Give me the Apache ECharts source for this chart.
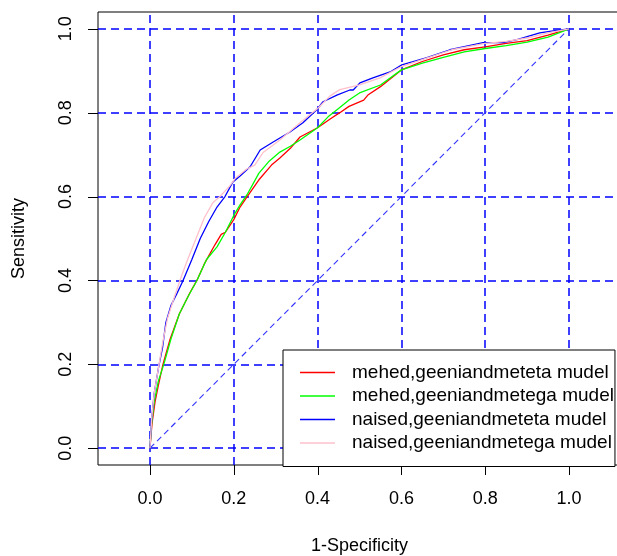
<!DOCTYPE html>
<html>
<head>
<meta charset="utf-8">
<script src="https://cdn.jsdelivr.net/npm/echarts@6/dist/echarts.min.js"></script>
<style>
  html, body { margin: 0; padding: 0; background: #fff; }
  #chart { width: 617px; height: 556px; }
</style>
</head>
<body>
<div id="chart"></div>
<script>
const xTicks = [0, 0.2, 0.4, 0.6, 0.8, 1.0];
const yTicks = [0, 0.2, 0.4, 0.6, 0.8, 1.0];
const names = [
  'mehed,geeniandmeteta mudel',
  'mehed,geeniandmetega mudel',
  'naised,geeniandmeteta mudel',
  'naised,geeniandmetega mudel'
];
const colors = ['#ff0000', '#00ff00', '#0000ff', '#ffc0cb'];

// 1-specificity / sensitivity
const redFpr = [0, 0.005, 0.012, 0.02, 0.031, 0.048, 0.07, 0.095, 0.112, 0.13, 0.155, 0.17, 0.18, 0.2, 0.215, 0.232, 0.26, 0.29, 0.31, 0.335, 0.358, 0.4, 0.43, 0.453, 0.475, 0.51, 0.52, 0.55, 0.6, 0.65, 0.7, 0.75, 0.8, 0.85, 0.9, 0.95, 1];
const redTpr = [0, 0.06, 0.11, 0.15, 0.2, 0.26, 0.32, 0.37, 0.40, 0.44, 0.485, 0.51, 0.515, 0.545, 0.575, 0.60, 0.64, 0.675, 0.692, 0.715, 0.742, 0.764, 0.785, 0.80, 0.815, 0.83, 0.842, 0.862, 0.902, 0.922, 0.938, 0.95, 0.957, 0.965, 0.972, 0.985, 1];

const greenFpr = [0, 0.004, 0.01, 0.02, 0.033, 0.05, 0.07, 0.09, 0.112, 0.135, 0.16, 0.18, 0.2, 0.215, 0.232, 0.26, 0.285, 0.31, 0.335, 0.358, 0.4, 0.425, 0.45, 0.475, 0.5, 0.55, 0.6, 0.65, 0.7, 0.75, 0.8, 0.85, 0.9, 0.95, 1];
const greenTpr = [0, 0.06, 0.11, 0.16, 0.2, 0.26, 0.32, 0.36, 0.40, 0.45, 0.48, 0.515, 0.555, 0.58, 0.605, 0.656, 0.685, 0.706, 0.72, 0.735, 0.764, 0.79, 0.81, 0.83, 0.847, 0.866, 0.902, 0.918, 0.932, 0.945, 0.953, 0.96, 0.968, 0.98, 1];

const blueFpr = [0, 0.004, 0.01, 0.02, 0.03, 0.038, 0.05, 0.065, 0.079, 0.1, 0.12, 0.14, 0.16, 0.179, 0.198, 0.215, 0.239, 0.263, 0.294, 0.334, 0.365, 0.398, 0.413, 0.446, 0.477, 0.485, 0.501, 0.532, 0.573, 0.601, 0.661, 0.716, 0.795, 0.842, 0.876, 0.93, 0.962, 1];
const blueTpr = [0, 0.07, 0.13, 0.19, 0.24, 0.3, 0.34, 0.37, 0.40, 0.45, 0.50, 0.54, 0.575, 0.60, 0.635, 0.649, 0.671, 0.711, 0.73, 0.754, 0.776, 0.807, 0.826, 0.842, 0.854, 0.854, 0.871, 0.883, 0.897, 0.914, 0.931, 0.95, 0.967, 0.967, 0.974, 0.99, 0.995, 1];

const pinkFpr = [0, 0.004, 0.01, 0.02, 0.03, 0.042, 0.058, 0.075, 0.09, 0.11, 0.13, 0.15, 0.167, 0.19, 0.205, 0.23, 0.25, 0.27, 0.31, 0.358, 0.4, 0.43, 0.453, 0.5, 0.549, 0.6, 0.66, 0.72, 0.8, 0.85, 0.9, 0.95, 1];
const pinkTpr = [0, 0.07, 0.13, 0.19, 0.25, 0.31, 0.36, 0.41, 0.45, 0.50, 0.55, 0.585, 0.60, 0.625, 0.645, 0.665, 0.675, 0.705, 0.735, 0.776, 0.81, 0.84, 0.855, 0.866, 0.883, 0.91, 0.93, 0.95, 0.965, 0.97, 0.978, 0.99, 1];

const diagX = [0, 1];
const diagY = [0, 1];

const curves = [
  [redFpr, redTpr],
  [greenFpr, greenTpr],
  [blueFpr, blueTpr],
  [pinkFpr, pinkTpr]
];
const zip = (xs, ys) => xs.map((x, i) => [x, ys[i]]);

const FONT = "'Liberation Sans', Arial, sans-serif";
const chart = echarts.init(document.getElementById('chart'));

// plot box (R keeps asp = 1, so x is wider than 0..1 +-4%)
const X_MIN = -0.124, X_MAX = 1.124, Y_MIN = -0.04, Y_MAX = 1.04;
const BOX = { left: 98, right: -4, top: 12, bottom: 91 };
const W = 617, H = 556;
const TICK_LEN = 10;
const boxW = W - BOX.left - BOX.right, boxH = H - BOX.top - BOX.bottom;
const px0 = BOX.left + (0 - X_MIN) / (X_MAX - X_MIN) * boxW;
const px1 = BOX.left + (1 - X_MIN) / (X_MAX - X_MIN) * boxW;
const py1 = BOX.top + (Y_MAX - 1) / (Y_MAX - Y_MIN) * boxH;
const py0 = BOX.top + (Y_MAX - 0) / (Y_MAX - Y_MIN) * boxH;
const boxBottom = H - BOX.bottom;

const curveSeries = curves.map(([xs, ys], i) => ({
  type: 'line',
  name: names[i],
  data: zip(xs, ys),
  symbol: 'none',
  showSymbol: false,
  lineStyle: { color: colors[i], width: 1.3 },
  itemStyle: { color: colors[i] },
  emphasis: { disabled: true },
  z: 3 + i
}));

chart.setOption({
  animation: false,
  backgroundColor: '#fff',
  grid: [
    Object.assign({ outerBoundsMode: 'none', containLabel: false, show: true, borderColor: '#000', borderWidth: 1, backgroundColor: 'transparent' }, BOX),
    { left: px0, right: W - px1, top: py1, bottom: H - py0, outerBoundsMode: 'none', containLabel: false, show: false }
  ],
  xAxis: [
    {
      type: 'value', min: X_MIN, max: X_MAX, gridIndex: 0,
      name: '1-Specificity', nameLocation: 'middle', nameGap: 72,
      nameTextStyle: { fontFamily: FONT, fontSize: 18, color: '#000' },
      axisLine: { show: false }, axisTick: { show: false }, axisLabel: { show: false }, splitLine: { show: false }
    },
    {
      type: 'value', min: 0, max: 1, interval: 0.2, gridIndex: 1,
      offset: boxBottom - py0,
      axisLine: { show: false },
      axisTick: { show: false },
      axisLabel: { fontFamily: FONT, fontSize: 18, color: '#000', margin: 25, formatter: v => v.toFixed(1) },
      splitLine: { show: false }
    }
  ],
  yAxis: [
    {
      type: 'value', min: Y_MIN, max: Y_MAX, gridIndex: 0,
      name: 'Sensitivity', nameLocation: 'middle', nameGap: 70, nameRotate: 90,
      nameTextStyle: { fontFamily: FONT, fontSize: 18, color: '#000' },
      axisLine: { show: false }, axisTick: { show: false }, axisLabel: { show: false }, splitLine: { show: false }
    },
    {
      type: 'value', min: 0, max: 1, interval: 0.2, gridIndex: 1,
      offset: px0 - BOX.left,
      axisLine: { show: false },
      axisTick: { show: false },
      axisLabel: { fontFamily: FONT, fontSize: 18, color: '#000', margin: 23, rotate: 90, formatter: v => v.toFixed(1) },
      splitLine: { show: false }
    }
  ],
  legend: {
    orient: 'vertical',
    left: 283, top: 350,
    z: 100,
    data: names,
    icon: 'rect',
    backgroundColor: '#fff',
    borderColor: '#000', borderWidth: 1, borderRadius: 0,
    padding: [13, 1, 14, 17],
    itemWidth: 35, itemHeight: 1.6, itemGap: 4.5,
    selectedMode: false,
    textStyle: { fontFamily: FONT, fontSize: 19, color: '#000', lineHeight: 18, padding: [0, 0, 0, 12] }
  },
  series: [
    {
      type: 'line',
      name: 'grid',
      data: [],
      silent: true,
      z: 1,
      markLine: {
        silent: true,
        z: 1,
        symbol: ['none', 'none'],
        label: { show: false },
        lineStyle: { color: '#0000ff', type: [8, 5], width: 1.5 },
        emphasis: { disabled: true },
        data: xTicks.map(v => ({ xAxis: v })).concat(yTicks.map(v => ({ yAxis: v })))
      }
    },
    {
      type: 'line',
      name: 'diag',
      data: zip(diagX, diagY),
      symbol: 'none',
      silent: true,
      z: 2,
      lineStyle: { color: '#3333ff', width: 1.1, type: [6, 4] },
      emphasis: { disabled: true }
    }
  ].concat(curveSeries)
});

// tick marks outside the box, positioned through the axis scale
const tickLines = [];
xTicks.forEach(v => {
  const p = chart.convertToPixel({ gridIndex: 1 }, [v, 0]);
  if (!p) return;
  const x = Math.round(p[0]) + 0.5;
  tickLines.push({ type: 'line', silent: true, z: 50, shape: { x1: x, y1: boxBottom, x2: x, y2: boxBottom + TICK_LEN }, style: { stroke: '#000', lineWidth: 1 } });
});
yTicks.forEach(v => {
  const p = chart.convertToPixel({ gridIndex: 1 }, [0, v]);
  if (!p) return;
  const y = Math.round(p[1]) + 0.5;
  tickLines.push({ type: 'line', silent: true, z: 50, shape: { x1: BOX.left, y1: y, x2: BOX.left - TICK_LEN, y2: y }, style: { stroke: '#000', lineWidth: 1 } });
});
chart.setOption({ graphic: tickLines });
</script>
</body>
</html>
